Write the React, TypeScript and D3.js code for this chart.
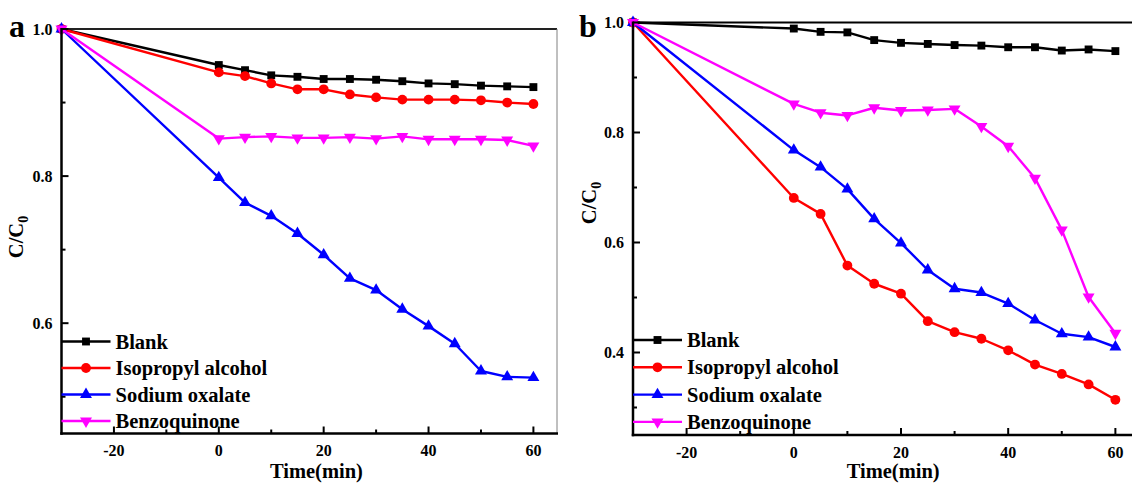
import React from "react";
import * as d3 from "d3";

const times = [-30, 0, 5, 10, 15, 20, 25, 30, 35, 40, 45, 50, 55, 60];
const seriesNames = ["Blank", "Isopropyl alcohol", "Sodium oxalate", "Benzoquinone"];
const seriesColors = ["#000000", "#FF0000", "#0000FF", "#FF00FF"];
const seriesShapes = ["square", "circle", "triangleUp", "triangleDown"];

// Panel a
const aBlank = [1.0, 0.951, 0.944, 0.937, 0.935, 0.932, 0.932, 0.931, 0.929, 0.926, 0.925, 0.923, 0.922, 0.921];
const aIPA = [1.0, 0.941, 0.936, 0.926, 0.918, 0.918, 0.911, 0.907, 0.904, 0.904, 0.904, 0.903, 0.9, 0.898];
const aSO = [1.0, 0.798, 0.764, 0.746, 0.722, 0.693, 0.661, 0.645, 0.619, 0.596, 0.572, 0.535, 0.527, 0.526];
const aBQ = [1.0, 0.851, 0.853, 0.854, 0.852, 0.852, 0.853, 0.851, 0.854, 0.85, 0.85, 0.85, 0.849, 0.841];

// Panel b
const bBlank = [1.0, 0.989, 0.983, 0.982, 0.968, 0.963, 0.961, 0.959, 0.958, 0.955, 0.955, 0.949, 0.951, 0.948];
const bIPA = [1.0, 0.681, 0.652, 0.558, 0.525, 0.507, 0.457, 0.437, 0.425, 0.404, 0.378, 0.361, 0.342, 0.314];
const bSO = [1.0, 0.768, 0.737, 0.697, 0.643, 0.599, 0.55, 0.516, 0.509, 0.489, 0.459, 0.434, 0.428, 0.41];
const bBQ = [1.0, 0.852, 0.836, 0.831, 0.845, 0.84, 0.841, 0.843, 0.811, 0.775, 0.717, 0.623, 0.501, 0.435];

const xMajor = [-20, 0, 20, 40, 60];
const xMinor = [-10, 10, 30, 50];
const aYMajor = [0.6, 0.8, 1.0];
const aYMinor = [0.5, 0.7, 0.9];
const bYMajor = [0.4, 0.6, 0.8, 1.0];
const bYMinor = [0.3, 0.5, 0.7, 0.9];

const FONT = "'Liberation Serif', 'Times New Roman', serif";

function symbolPath(shape: string) {
  if (shape === "square") return d3.symbol(d3.symbolSquare, 62)() as string;
  if (shape === "circle") return d3.symbol(d3.symbolCircle, 76)() as string;
  return d3.symbol(d3.symbolTriangle, 62)() as string;
}

function Marker({ shape, color, x, y }: any) {
  const rot = shape === "triangleDown" ? 180 : 0;
  return (
    <path
      d={symbolPath(shape)}
      fill={color}
      transform={`translate(${x},${y}) rotate(${rot})`}
    />
  );
}

function Panel(props: any) {
  const { x0, x1, y0, y1, yDomain, yMajor, yMinor, data, label, labelX, titleX, titleY, legendY0, legendStep, frameRight, topStroke } = props;
  const xs = d3.scaleLinear().domain([-30, 64.5]).range([x0, x1]);
  const ys = d3.scaleLinear().domain(yDomain).range([y1, y0]);
  const line = d3
    .line<number>()
    .x((_, i) => xs(times[i]))
    .y((d) => ys(d));
  const axisX = x0;
  const axisY = y1;
  return (
    <g fontFamily={FONT} fontWeight="bold">
      <line x1={axisX} x2={frameRight ? x1 : 1140} y1={y0} y2={y0} stroke={topStroke} strokeWidth={2} />
      {frameRight && <line x1={x1} x2={x1} y1={y0} y2={axisY} stroke="#808080" strokeWidth={1} />}
      {data.map((vals: number[], si: number) => (
        <g key={si}>
          <path d={line(vals) as string} fill="none" stroke={seriesColors[si]} strokeWidth={2.4} strokeLinejoin="round" />
          {vals.map((v, i) => (
            <Marker key={i} shape={seriesShapes[si]} color={seriesColors[si]} x={xs(times[i])} y={ys(v)} />
          ))}
        </g>
      ))}
      <line x1={axisX} x2={axisX} y1={y0 - 1} y2={axisY + 1.25} stroke="#000" strokeWidth={2.5} />
      <line x1={axisX - 1.25} x2={frameRight ? x1 + 1 : 1140} y1={axisY} y2={axisY} stroke="#000" strokeWidth={2.5} />
      {xMajor.map((t) => (
        <g key={"xm" + t}>
          <line x1={xs(t)} x2={xs(t)} y1={axisY} y2={axisY - 7} stroke="#000" strokeWidth={2} />
          <text x={xs(t)} y={axisY + 22.5} textAnchor="middle" fontSize={16}>
            {t}
          </text>
        </g>
      ))}
      {xMinor.map((t) => (
        <line key={"xn" + t} x1={xs(t)} x2={xs(t)} y1={axisY} y2={axisY - 4} stroke="#000" strokeWidth={2} />
      ))}
      {yMajor.map((v: number) => (
        <g key={"ym" + v}>
          <line x1={axisX} x2={axisX + 7} y1={ys(v)} y2={ys(v)} stroke="#000" strokeWidth={2} />
          <text x={axisX - 9} y={ys(v) + 5.5} textAnchor="end" fontSize={16}>
            {v.toFixed(1)}
          </text>
        </g>
      ))}
      {yMinor.map((v: number) => (
        <line key={"yn" + v} x1={axisX} x2={axisX + 4} y1={ys(v)} y2={ys(v)} stroke="#000" strokeWidth={2} />
      ))}
      <text x={(xs(-30) + xs(60)) / 2 + 19} y={478} textAnchor="middle" fontSize={20.5}>
        Time(min)
      </text>
      <text transform={`translate(${titleX},${titleY}) rotate(-90)`} textAnchor="middle" fontSize={20.5}>
        C/C<tspan fontSize={14} dy={5}>0</tspan>
      </text>
      <text x={labelX} y={37} fontSize={32}>
        {label}
      </text>
      {seriesNames.map((n, i) => {
        const ly = legendY0 + i * legendStep;
        return (
          <g key={n}>
            <line x1={axisX} x2={axisX + 49} y1={ly} y2={ly} stroke={seriesColors[i]} strokeWidth={2.4} />
            <Marker shape={seriesShapes[i]} color={seriesColors[i]} x={axisX + 24.5} y={ly} />
            <text x={axisX + 54} y={ly + 7} fontSize={20.5}>
              {n}
            </text>
          </g>
        );
      })}
    </g>
  );
}

export default function App() {
  return (
    <svg
      width={1132}
      height={483}
      style={{ position: "absolute", left: 0, top: 0, background: "#fff" }}
    >
      <rect width={1132} height={483} fill="#fff" />
      <Panel
        x0={61.5}
        x1={557}
        y0={29}
        y1={433.5}
        yDomain={[0.45, 1.0]}
        yMajor={aYMajor}
        yMinor={aYMinor}
        data={[aBlank, aIPA, aSO, aBQ]}
        label="a"
        labelX={9}
        titleX={23}
        titleY={237}
        legendY0={341.5}
        legendStep={26.5}
        frameRight={true}
        topStroke="#222"
      />
      <Panel
        x0={633}
        x1={1139.5}
        y0={22.5}
        y1={435}
        yDomain={[0.25, 1.0]}
        yMajor={bYMajor}
        yMinor={bYMinor}
        data={[bBlank, bIPA, bSO, bBQ]}
        label="b"
        labelX={579}
        titleX={596}
        titleY={203}
        legendY0={340}
        legendStep={27.3}
        frameRight={false}
        topStroke="#000"
      />
    </svg>
  );
}
